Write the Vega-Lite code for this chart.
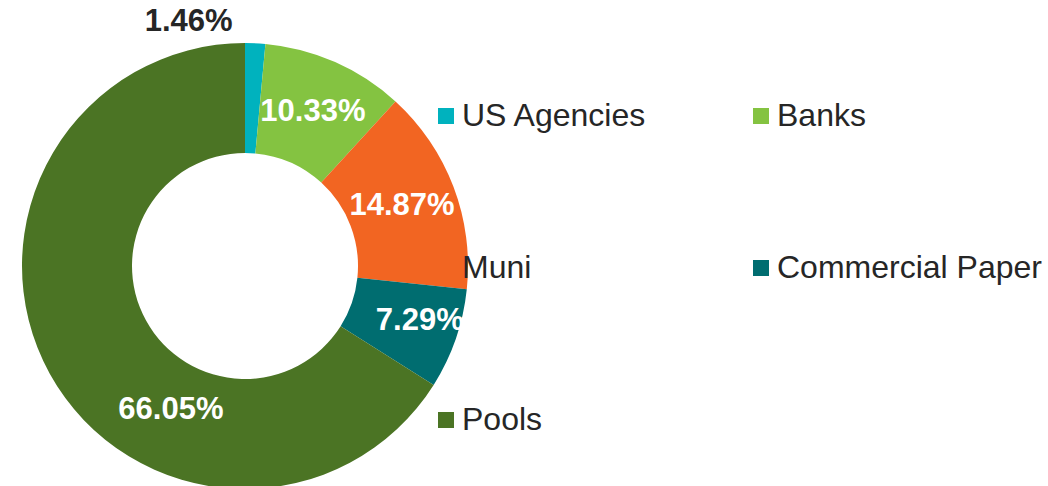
{
  "$schema": "https://vega.github.io/schema/vega-lite/v6.json",
  "width": 490,
  "height": 532,
  "padding": 0,
  "background": "white",
  "data": {
    "values": [
      {"category": "US Agencies", "value": 1.46, "idx": 1},
      {"category": "Banks", "value": 10.33, "idx": 2},
      {"category": "Muni", "value": 14.87, "idx": 3},
      {"category": "Commercial Paper", "value": 7.29, "idx": 4},
      {"category": "Pools", "value": 66.05, "idx": 5}
    ]
  },
  "transform": [
    {"calculate": "format(datum.value, '.2f') + '%'", "as": "label"}
  ],
  "encoding": {
    "theta": {"field": "value", "type": "quantitative", "stack": true},
    "order": {"field": "idx", "type": "quantitative"}
  },
  "layer": [
    {
      "mark": {"type": "arc", "outerRadius": 223, "innerRadius": 113},
      "encoding": {
        "color": {
          "field": "category",
          "type": "nominal",
          "scale": {
            "domain": ["US Agencies", "Banks", "Muni", "Commercial Paper", "Pools"],
            "range": ["#00B2BE", "#84C341", "#F26522", "#006D70", "#4B7424"]
          },
          "legend": {
            "orient": "none",
            "direction": "horizontal",
            "legendX": 430,
            "legendY": 100,
            "columns": 2,
            "title": null,
            "padding": 0,
            "symbolType": "square",
            "symbolSize": 256,
            "symbolStrokeWidth": 0,
            "labelFont": "Liberation Sans",
            "labelFontSize": 32,
            "labelColor": "#262626",
            "labelOffset": 0,
            "labelLimit": 500,
            "columnPadding": 98,
            "rowPadding": 120
          }
        }
      }
    },
    {
      "mark": {
        "type": "text",
        "radius": 168,
        "font": "Liberation Sans",
        "fontWeight": "bold",
        "fontSize": 31,
        "align": "center",
        "baseline": "middle",
        "dx": {"expr": "datum.category === 'Pools' ? 73 : datum.category === 'US Agencies' ? -64 : datum.category === 'Commercial Paper' ? 16 : 0"},
        "dy": {"expr": "datum.category === 'Pools' ? 63 : datum.category === 'US Agencies' ? -76 : 0"}
      },
      "encoding": {
        "text": {"field": "label", "type": "nominal"},
        "detail": {"field": "category", "type": "nominal"},
        "color": {
          "condition": {"test": "datum.category === 'US Agencies'", "value": "#262626"},
          "value": "white"
        }
      }
    }
  ],
  "config": {"view": {"stroke": null}}
}
